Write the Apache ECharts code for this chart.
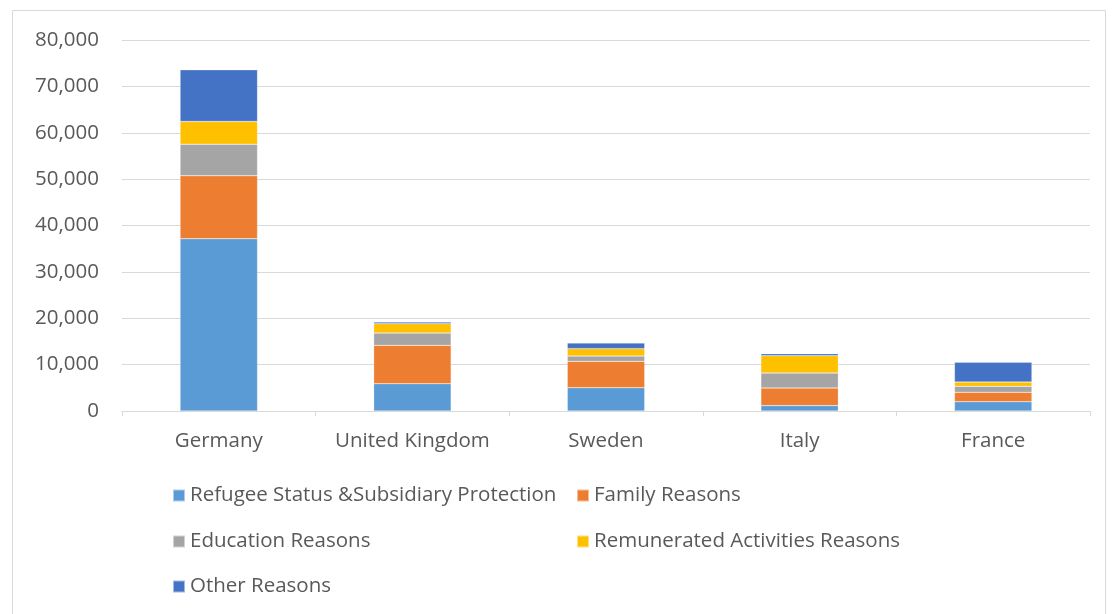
<!DOCTYPE html>
<html><head><meta charset="utf-8">
<script src="https://cdn.jsdelivr.net/npm/echarts@6/dist/echarts.min.js"></script>
<style>html,body{margin:0;padding:0;background:#fff}#c{width:1114px;height:614px}</style>
</head><body><div id="c"></div>
<script>
const categories = ["Germany", "United Kingdom", "Sweden", "Italy", "France"];
const seriesNames = ["Refugee Status &Subsidiary Protection", "Family Reasons", "Education Reasons", "Remunerated Activities Reasons", "Other Reasons"];
const refugee = [37150, 5900, 5040, 1160, 2010];
const family = [13580, 8260, 5670, 3800, 2020];
const education = [6810, 2650, 1140, 3230, 1290];
const remunerated = [4890, 2030, 1600, 3750, 930];
const other = [11150, 340, 1200, 430, 4250];
const yTicks = [0, 10000, 20000, 30000, 40000, 50000, 60000, 70000, 80000];
const colors = ["#5B9BD5", "#ED7D31", "#A5A5A5", "#FFC000", "#4472C4"];
const values = [refugee, family, education, remunerated, other];

const font = "'Open Sans', 'Noto Sans', sans-serif";
const legendPos = [[172, 485], [576, 485], [172, 531], [576, 531], [172, 576]];

const chart = echarts.init(document.getElementById('c'), null, {renderer: 'canvas'});
chart.setOption({
  animation: false,
  color: colors,
  textStyle: {fontFamily: font},
  graphic: [{type: 'rect', shape: {x: 12.5, y: 10.5, width: 1093, height: 610}, style: {fill: 'none', stroke: '#d9d9d9', lineWidth: 1}}],
  grid: {left: 122, right: 24, top: 40, bottom: 203, containLabel: false},
  xAxis: {
    type: 'category', data: categories,
    axisLine: {lineStyle: {color: '#d9d9d9'}},
    axisTick: {show: true, length: 5, interval: 0, lineStyle: {color: '#d9d9d9'}},
    axisLabel: {color: '#595959', fontSize: 20.5, margin: 20, interval: 0, hideOverlap: false, fontFamily: font}
  },
  yAxis: {
    type: 'value', min: yTicks[0], max: yTicks[yTicks.length - 1], interval: 10000,
    axisLine: {show: false}, axisTick: {show: false},
    splitLine: {lineStyle: {color: '#d9d9d9', width: 1}},
    axisLabel: {color: '#595959', fontSize: 20.5, margin: 23, fontFamily: font,
      formatter: v => v.toLocaleString('en-US')}
  },
  legend: seriesNames.map((n, i) => ({
    data: [n], left: legendPos[i][0], top: legendPos[i][1],
    itemWidth: 12, itemHeight: 12, itemGap: 0, icon: 'rect', padding: 0,
    textStyle: {color: '#595959', fontSize: 20.5, fontFamily: font, padding: [0, 0, 0, 0]}
  })),
  series: seriesNames.map((n, i) => ({
    name: n, type: 'bar', stack: 'total', data: values[i],
    barCategoryGap: '60%',
    itemStyle: {color: colors[i], borderColor: 'rgba(255,255,255,0.5)', borderWidth: 0.5}
  }))
});
</script></body></html>
